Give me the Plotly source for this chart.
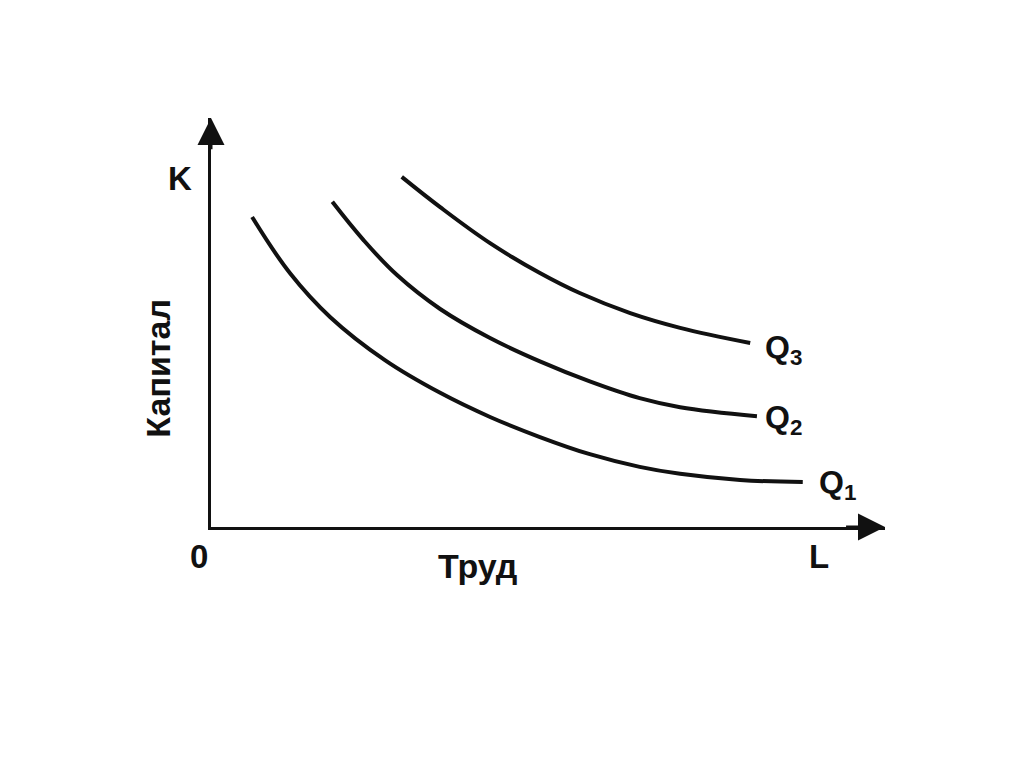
import plotly.graph_objects as go

# Isoquant data (L = labour, K = capital)
q1_L = [0.61, 1.17, 1.77, 2.58, 3.40, 4.14, 4.88, 5.62, 6.36, 6.96, 7.85, 8.78]
q1_K = [7.58, 6.21, 5.13, 4.08, 3.28, 2.69, 2.20, 1.78, 1.47, 1.30, 1.15, 1.10]

q2_L = [1.80, 2.26, 2.76, 3.40, 4.14, 4.88, 5.62, 6.36, 6.96, 8.10]
q2_K = [7.95, 7.02, 6.16, 5.33, 4.62, 4.05, 3.56, 3.15, 2.93, 2.71]

q3_L = [2.83, 3.40, 4.14, 4.88, 5.47, 6.22, 6.96, 8.00]
q3_K = [8.56, 7.82, 6.94, 6.21, 5.72, 5.23, 4.87, 4.50]

curve_names = ["Q<sub>1</sub>", "Q<sub>2</sub>", "Q<sub>3</sub>"]
axis_max = 10

FONT = "Liberation Sans, Arial, sans-serif"
INK = "#111111"

fig = go.Figure()
for L, K in [(q1_L, q1_K), (q2_L, q2_K), (q3_L, q3_K)]:
    fig.add_trace(go.Scatter(x=L, y=K, mode="lines",
                             line=dict(color=INK, width=4, shape="spline", smoothing=1.1),
                             hoverinfo="skip", showlegend=False))

annotations = []
# axis arrows
annotations.append(dict(x=axis_max, y=0, ax=axis_max - 0.6, ay=0, xref="x", yref="y",
                        axref="x", ayref="y", text="", showarrow=True,
                        arrowhead=2, arrowsize=1.8, arrowwidth=3, arrowcolor=INK))
annotations.append(dict(x=0, y=axis_max, ax=0, ay=axis_max - 0.8, xref="x", yref="y",
                        axref="x", ayref="y", text="", showarrow=True,
                        arrowhead=2, arrowsize=1.8, arrowwidth=3, arrowcolor=INK))

def label(text, L, K, size, xanchor="center", yanchor="middle", angle=0):
    # positions given in data units, converted to paper fractions (axes span [0, axis_max])
    annotations.append(dict(text=text, x=L / axis_max, y=K / axis_max,
                            xref="paper", yref="paper", showarrow=False,
                            xanchor=xanchor, yanchor=yanchor, textangle=angle,
                            font=dict(family=FONT, size=size, color=INK)))

label("<b>K</b>", -0.46, 8.51, 33)
label("<b>Капитал</b>", -0.79, 3.89, 34, angle=-90)
label("<b>0</b>", -0.18, -0.73, 33)
label("<b>Труд</b>", 3.96, -0.95, 34)
label("<b>L</b>", 9.02, -0.71, 33)

q_label_pos = [(8.99, 1.05), (8.19, 2.64), (8.19, 4.33)]
for name, (x, y) in zip(curve_names, q_label_pos):
    label("<b>" + name + "</b>", x, y, 32, xanchor="left")

fig.update_layout(
    width=1008, height=751,
    margin=dict(l=203, r=131, t=110, b=232),
    paper_bgcolor="white", plot_bgcolor="white",
    xaxis=dict(range=[0, axis_max], showgrid=False, zeroline=False, showticklabels=False,
               ticks="", showline=True, linewidth=3, linecolor=INK, fixedrange=True),
    yaxis=dict(range=[0, axis_max], showgrid=False, zeroline=False, showticklabels=False,
               ticks="", showline=True, linewidth=3, linecolor=INK, fixedrange=True),
    annotations=annotations,
    showlegend=False,
)

fig.write_html("out.html", config={"displayModeBar": False})
